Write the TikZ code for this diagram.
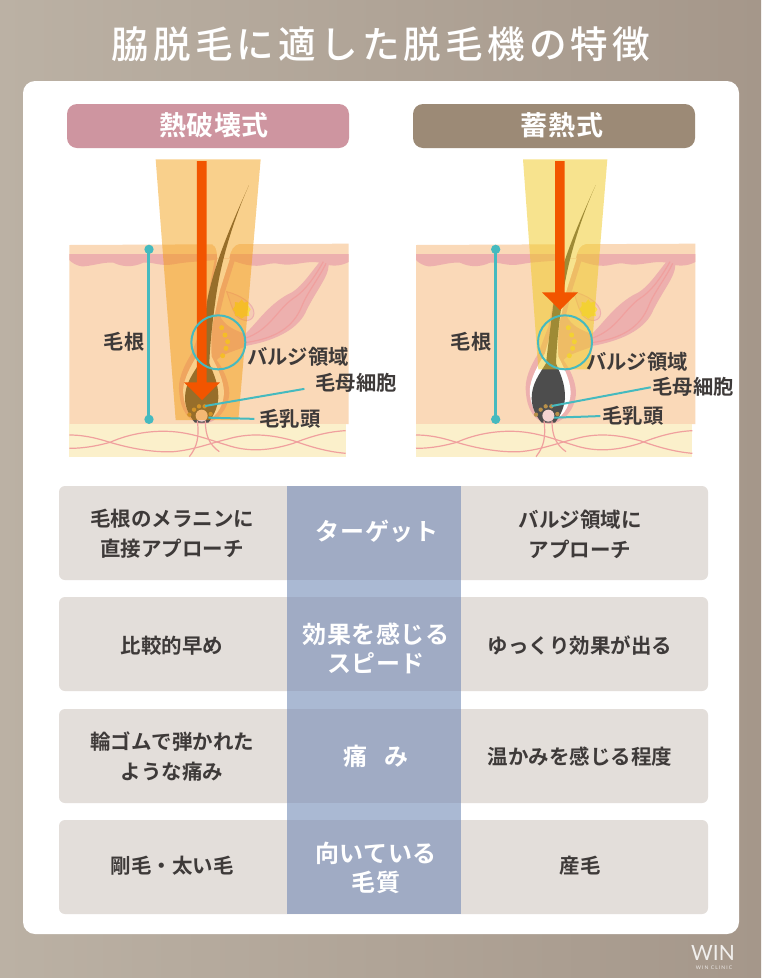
\documentclass[tikz,border=0pt]{standalone}
\usepackage{fontspec}
\setmainfont{Noto Sans CJK JP}[BoldFont={Noto Sans CJK JP Bold}]
\newfontfamily\titlefont{Noto Sans CJK JP Medium}
\newfontfamily\logofont{Lato}
\usetikzlibrary{calc}
\definecolor{inkc}{HTML}{3E3A39}
\definecolor{tealc}{HTML}{45BABF}
\definecolor{skinc}{HTML}{FAD9B8}
\definecolor{fatc}{HTML}{FBF0CB}
\definecolor{pinkc}{HTML}{EDB0AE}
\definecolor{linec}{HTML}{F0A09E}
\definecolor{hairc}{HTML}{4D4D4D}
\definecolor{cellc}{HTML}{B8904A}
\definecolor{dotc}{HTML}{F8DC4A}
\definecolor{arrowc}{HTML}{F25500}
\definecolor{rowc}{HTML}{E3DEDA}
\definecolor{colc}{HTML}{AAB9D3}
\definecolor{cellcolc}{HTML}{A0ABC4}
\definecolor{pinkpill}{HTML}{CE95A0}
\definecolor{brownpill}{HTML}{9C8A76}
\definecolor{beamA}{RGB}{243,152,0}
\definecolor{beamB}{RGB}{240,200,30}
\definecolor{bgL}{HTML}{BBB1A4}
\definecolor{bgR}{HTML}{A5978A}
\tikzset{
  rowbox/.style={fill=rowc,rounded corners=6pt},
  pill/.style={rounded corners=10pt},
  pilltext/.style={text=white,font=\fontsize{27}{32}\selectfont\bfseries\addfontfeature{LetterSpace=2}},
  sidetext/.style={text=inkc,align=center,font=\fontsize{20.5}{30}\selectfont\bfseries},
  midtext/.style={text=white,align=center,font=\fontsize{24}{29}\selectfont\bfseries\addfontfeature{LetterSpace=2.2}},
  lab/.style={text=inkc,font=\fontsize{20.3}{24}\selectfont\bfseries,inner sep=0pt},
  lead/.style={draw=tealc,line width=2pt},
  skinpart/.style={line width=1.2pt},
}
\newcommand{\hairbase}{%
  \fill[skinc] (28,285) -- (866,281) -- (866,822) -- (28,822) -- cycle;
  \fill[fatc] (28,822) rectangle (857,920);
  \fill[pinkc] (28,312) -- (866,312) -- (866,336) .. controls (840,350) and (810,350) .. (780,338)
     .. controls (740,330) and (700,350) .. (660,342) .. controls (630,335) and (610,350) .. (580,347)
     .. controls (550,345) and (530,335) .. (510,330) -- (465,330)
     .. controls (420,335) and (380,335) .. (340,343) .. controls (300,350) and (280,335) .. (250,338)
     .. controls (220,352) and (190,352) .. (160,338) .. controls (130,335) and (90,350) .. (65,349)
     .. controls (50,347) and (35,338) .. (28,330) -- cycle;
  \fill[white] (458,285) .. controls (468,288) and (470,300) .. (472,325) -- (508,325)
     .. controls (512,300) and (520,285) .. (540,281) -- (540,272) -- (458,272) -- cycle;
  \fill[pinkc] (555,552) .. controls (590,520) and (620,470) .. (680,435) .. controls (720,420) and (750,370) .. (782,332)
     -- (806,346) .. controls (805,380) and (770,420) .. (740,480) .. controls (720,530) and (660,570) .. (555,588) -- cycle;
  \draw[linec,skinpart] (555,565) .. controls (630,540) and (650,480) .. (700,445) .. controls (740,420) and (770,370) .. (790,335);
  \draw[linec,skinpart] (555,578) .. controls (650,565) and (700,530) .. (725,470) .. controls (740,430) and (780,380) .. (798,340);
  \filldraw[fill=pinkc!35!skinc,draw=pinkc,line width=1pt] (500,425) .. controls (540,435) and (582,460) .. (582,490)
     .. controls (580,516) and (550,518) .. (530,498) .. controls (515,478) and (510,450) .. (500,425) -- cycle;
  \fill[dotc] (545,448) -- (552,458) -- (565,455) -- (565,468) -- (572,478) -- (566,488) -- (568,498) -- (555,498)
     -- (545,506) -- (535,498) -- (525,498) -- (525,486) -- (518,478) -- (525,468) -- (525,456) -- (537,458) -- cycle;
  \fill[pinkc] (465,325) -- (445,430) -- (425,530) -- (395,610) .. controls (370,650) and (352,690) .. (358,730)
     .. controls (362,780) and (385,815) .. (425,822) .. controls (470,820) and (505,780) .. (508,730)
     .. controls (508,690) and (485,650) .. (470,630) .. controls (490,610) and (520,605) .. (555,590)
     -- (555,552) .. controls (525,540) and (495,530) .. (478,495) -- (495,425) -- (525,330) -- (510,325) -- cycle;
  \fill[white] (472,325) -- (455,430) -- (440,520) -- (415,610) .. controls (385,660) and (365,700) .. (370,735)
     .. controls (375,780) and (395,812) .. (425,814) .. controls (465,812) and (490,770) .. (492,730)
     .. controls (492,690) and (470,650) .. (455,620) .. controls (452,580) and (455,520) .. (465,490)
     -- (480,420) -- (510,325) -- cycle;
  \fill[hairc] (567,105) .. controls (525,200) and (485,320) .. (468,440) .. controls (458,510) and (450,580) .. (448,640)
     .. controls (460,670) and (476,700) .. (475,745) .. controls (472,780) and (455,805) .. (445,818)
     -- (405,818) .. controls (390,800) and (375,775) .. (375,745) .. controls (375,700) and (400,670) .. (418,640)
     .. controls (425,580) and (435,500) .. (442,450) .. controls (465,330) and (525,200) .. (567,105) -- cycle;
  \foreach \cx/\cy in {402/779,417/769,434/769,388/794,452/792}{\fill[cellc] (\cx,\cy) circle[radius=6.5];}
  \foreach \cx/\cy in {485/533,495/555,503/575,498/595,488/617}{\fill[dotc] (\cx,\cy) circle[radius=7.5];}
  \draw[linec,skinpart] (28,855) .. controls (80,855) and (120,868) .. (150,877) .. controls (210,895) and (280,908) .. (340,905)
     .. controls (400,900) and (450,880) .. (500,868) .. controls (560,850) and (620,850) .. (700,872) .. controls (750,890) and (800,905) .. (857,910);
  \draw[linec,skinpart] (28,895) .. controls (80,895) and (120,885) .. (150,877) .. controls (210,850) and (280,840) .. (340,845)
     .. controls (400,850) and (450,870) .. (500,885) .. controls (560,905) and (620,905) .. (700,880) .. controls (750,860) and (800,845) .. (857,842);
  \draw[linec,skinpart] (412,812) .. controls (418,860) and (412,890) .. (388,920);
  \draw[linec,skinpart] (436,812) .. controls (436,860) and (450,885) .. (478,905);
  \fill[pinkc!55!white] (425,797) circle[radius=18];
}
\newcommand{\hairtop}{%
  \fill[tealc] (267,298) circle[radius=14];
  \fill[tealc] (267,808) circle[radius=14];
  \draw[draw=tealc,line width=3pt] (267,298) -- (267,808);
  \draw[draw=tealc,line width=2pt] (475,577) circle[radius=81];
}
\begin{document}
\begin{tikzpicture}[x=1pt,y=-1pt]
\useasboundingbox (0,0) rectangle (761,978);
\shade[left color=bgL,right color=bgR] (0,0) rectangle (761,978);
\node[text=white,font=\titlefont\fontsize{37.6}{44}\selectfont\addfontfeature{LetterSpace=11}] (title) at (381,44) {脇脱毛に適した脱毛機の特徴};
\fill[white,rounded corners=12pt] (23,81) rectangle (739,934);
\fill[pill,pinkpill] (67,104) rectangle (349,148);
\fill[pill,brownpill] (413,104) rectangle (695,148);
\node[pilltext] (hA) at (214,125) {熱破壊式};
\node[pilltext] (hB) at (562,125) {蓄熱式};
\begin{scope}[shift={(60,150)},x=.33333pt,y=-.33333pt]
  \hairbase
  \fill[beamA,opacity=.45] (287,28) -- (602,28) -- (535,810) -- (347,810) -- cycle;
  \fill[arrowc] (411,33) -- (440,33) -- (440,697) -- (480,697) -- (426,750) -- (372,697) -- (411,697) -- cycle;
  \hairtop
  \coordinate (cellA) at (435,768);
  \coordinate (papA) at (445,803);
\end{scope}
\begin{scope}[shift={(406.67,150)},x=.33333pt,y=-.33333pt]
  \hairbase
  \fill[beamB,opacity=.5] (349,28) -- (602,28) -- (550,658) -- (395,658) -- cycle;
  \fill[arrowc] (445,33) -- (474,33) -- (474,427) -- (514,427) -- (460,480) -- (406,427) -- (445,427) -- cycle;
  \hairtop
  \coordinate (cellB) at (435,768);
  \coordinate (papB) at (442,803);
\end{scope}
\node[lab] (rootA) at (124,342) {毛根};
\node[lab] (bulgeA) at (298,357) {バルジ領域};
\node[lab] (matA) at (356,383) {毛母細胞};
\node[lab] (dpA) at (290,419) {毛乳頭};
\node[lab] (rootB) at (471,342) {毛根};
\node[lab] (bulgeB) at (637,362) {バルジ領域};
\node[lab] (matB) at (693,387) {毛母細胞};
\node[lab] (dpB) at (633,416) {毛乳頭};
\draw[lead,shorten >=11pt] (cellA) -- (matA.west|-0,387);
\draw[lead,shorten >=5pt] (papA) -- (dpA.west);
\draw[lead,shorten >=1.5pt] (cellB) -- (matB.west|-0,387);
\draw[lead,shorten >=2pt] (papB) -- (dpB.west);
\fill[rowbox] (59,486) rectangle (708,580);
\fill[rowbox] (59,597) rectangle (708,691);
\fill[rowbox] (59,709) rectangle (708,803);
\fill[rowbox] (59,820) rectangle (708,914);
\fill[colc] (287,486) rectangle (461,914);
\fill[cellcolc] (287,486) rectangle (461,580);
\fill[cellcolc] (287,597) rectangle (461,691);
\fill[cellcolc] (287,709) rectangle (461,803);
\fill[cellcolc] (287,820) rectangle (461,914);
\node[sidetext] (l1) at (172,534) {毛根のメラニンに\\直接アプローチ};
\node[sidetext] (l2) at (172,646) {比較的早め};
\node[sidetext] (l3) at (172,757) {輪ゴムで弾かれた\\ような痛み};
\node[sidetext] (l4) at (172,866) {剛毛・太い毛};
\node[midtext] (m1) at (377,531) {ターゲット};
\node[midtext] (m2) at (376,648) {効果を感じる\\スピード};
\node[midtext] (m3) at (376,756) {痛\hspace{.7em}み};
\node[midtext] (m4) at (376,868) {向いている\\毛質};
\node[sidetext] (r1) at (580,534) {バルジ領域に\\アプローチ};
\node[sidetext] (r2) at (580,646) {ゆっくり効果が出る};
\node[sidetext] (r3) at (580,757) {温かみを感じる程度};
\node[sidetext] (r4) at (580,866) {産毛};
\node[text=white!85!bgR,font=\logofont\fontsize{21}{24}\selectfont,inner sep=0pt] (logo) at (713,953) {WIN};
\node[text=white!80!bgR,font=\logofont\fontsize{5}{6}\selectfont\addfontfeature{LetterSpace=22},inner sep=0pt] (logosub) at (714,968) {WIN CLINIC};
\end{tikzpicture}
\end{document}
